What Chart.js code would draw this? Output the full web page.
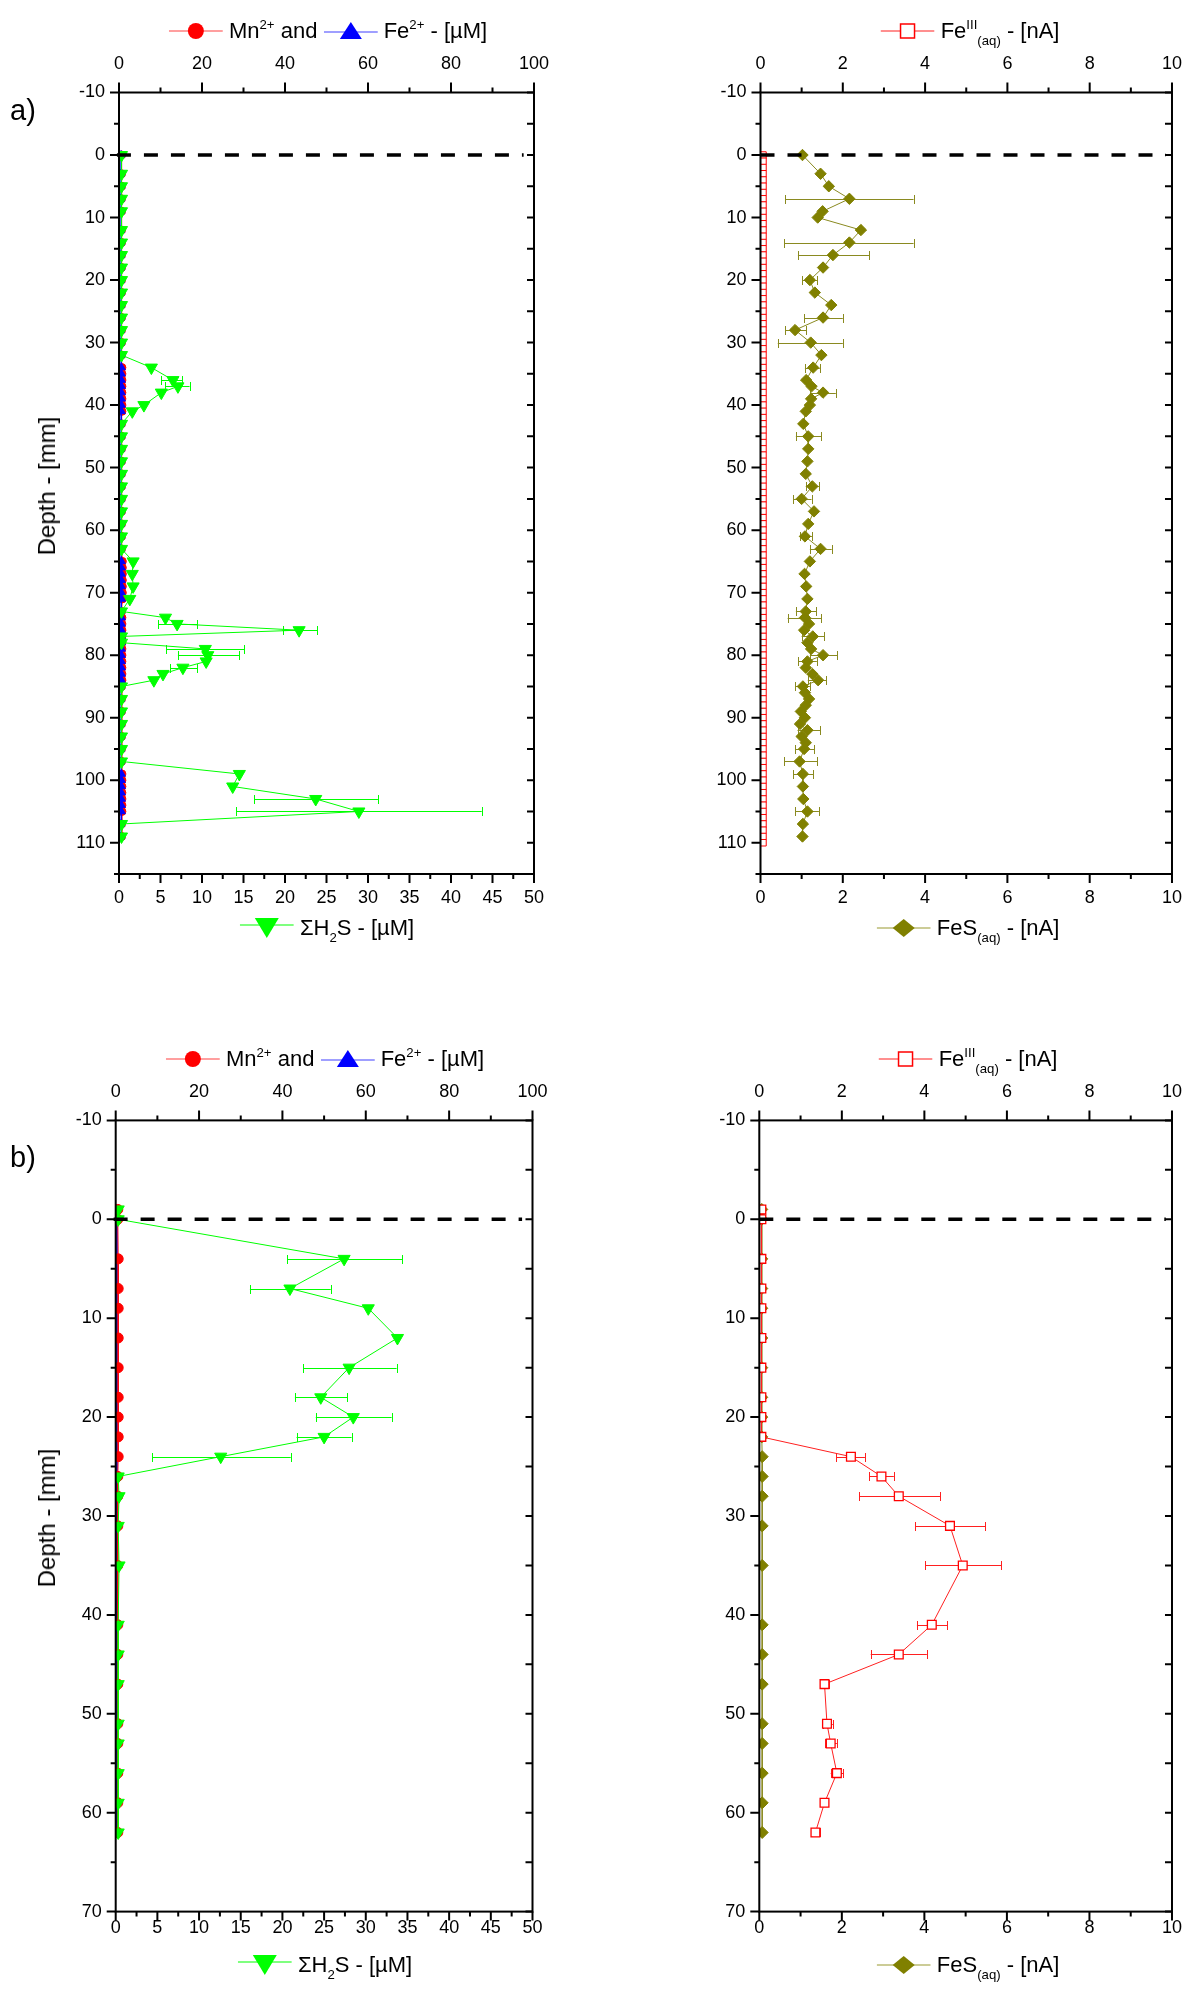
<!DOCTYPE html>
<html><head><meta charset="utf-8">
<script src="https://cdn.jsdelivr.net/npm/chart.js@4.4.0/dist/chart.umd.min.js"></script>
<style>
html,body{margin:0;padding:0;background:#fff;}
body{width:1200px;height:1989px;position:relative;overflow:hidden;font-family:"Liberation Sans",Arial,Helvetica,sans-serif;color:#000;}
canvas{position:absolute;}
.lg{position:absolute;display:flex;align-items:center;white-space:nowrap;font-size:22px;transform:translate(-50%,-50%);z-index:5;}
.lg svg{display:block;}
sup{font-size:0.6em;vertical-align:0.7em;line-height:0;}
sub{font-size:0.6em;vertical-align:-0.5em;line-height:0;}
.pl{position:absolute;font-size:29px;transform:translate(-50%,-50%);}
.yt{position:absolute;font-size:24px;white-space:nowrap;transform:translate(-50%,-50%) rotate(-90deg);}
</style></head><body>
<canvas id="cAL" width="600" height="1000" style="left:0;top:0"></canvas>
<canvas id="cAR" width="600" height="1000" style="left:600px;top:0"></canvas>
<canvas id="cBL" width="600" height="989" style="left:0;top:1000px"></canvas>
<canvas id="cBR" width="600" height="989" style="left:600px;top:1000px"></canvas>

<div class="pl" style="left:23px;top:110px">a)</div>
<div class="pl" style="left:23px;top:1157px">b)</div>
<div class="yt" style="left:47px;top:486px">Depth - [mm]</div>
<div class="yt" style="left:47px;top:1518px">Depth - [mm]</div>

<div class="lg" style="left:328px;top:31px">
<svg width="54" height="24"><line x1="0" y1="12" x2="54" y2="12" stroke="#ff4040" stroke-width="1.2"/><circle cx="27" cy="12" r="8" fill="#ff0000"/></svg>
<span>&nbsp;Mn<sup>2+</sup> and&nbsp;</span>
<svg width="54" height="24"><line x1="0" y1="13" x2="54" y2="13" stroke="#4040ff" stroke-width="1.2"/><polygon points="27,3 38,20 16,20" fill="#0000ff"/></svg>
<span>&nbsp;Fe<sup>2+</sup> - [µM]</span>
</div>
<div class="lg" style="left:970px;top:31px">
<svg width="54" height="24"><line x1="0" y1="12" x2="54" y2="12" stroke="#ff2020" stroke-width="1.2"/><rect x="20" y="5" width="14" height="14" fill="#fff" stroke="#ff0000" stroke-width="1.5"/></svg>
<span>&nbsp;Fe<sup>III</sup><sub>(aq)</sub> - [nA]</span>
</div>
<div class="lg" style="left:327px;top:928px">
<svg width="54" height="26"><line x1="0" y1="10" x2="54" y2="10" stroke="#00ff00" stroke-width="1.2"/><polygon points="15,3 39,3 27,23" fill="#00ff00"/></svg>
<span>&nbsp;ΣH<sub>2</sub>S - [µM]</span>
</div>
<div class="lg" style="left:968px;top:928px">
<svg width="54" height="24"><line x1="0" y1="12" x2="54" y2="12" stroke="#9a9a30" stroke-width="1.2"/><polygon points="27,3 38,12 27,21 16,12" fill="#808000"/></svg>
<span>&nbsp;FeS<sub>(aq)</sub> - [nA]</span>
</div>

<div class="lg" style="left:325px;top:1059px">
<svg width="54" height="24"><line x1="0" y1="12" x2="54" y2="12" stroke="#ff4040" stroke-width="1.2"/><circle cx="27" cy="12" r="8" fill="#ff0000"/></svg>
<span>&nbsp;Mn<sup>2+</sup> and&nbsp;</span>
<svg width="54" height="24"><line x1="0" y1="13" x2="54" y2="13" stroke="#4040ff" stroke-width="1.2"/><polygon points="27,3 38,20 16,20" fill="#0000ff"/></svg>
<span>&nbsp;Fe<sup>2+</sup> - [µM]</span>
</div>
<div class="lg" style="left:968px;top:1059px">
<svg width="54" height="24"><line x1="0" y1="12" x2="54" y2="12" stroke="#ff2020" stroke-width="1.2"/><rect x="20" y="5" width="14" height="14" fill="#fff" stroke="#ff0000" stroke-width="1.5"/></svg>
<span>&nbsp;Fe<sup>III</sup><sub>(aq)</sub> - [nA]</span>
</div>
<div class="lg" style="left:325px;top:1965px">
<svg width="54" height="26"><line x1="0" y1="10" x2="54" y2="10" stroke="#00ff00" stroke-width="1.2"/><polygon points="15,3 39,3 27,23" fill="#00ff00"/></svg>
<span>&nbsp;ΣH<sub>2</sub>S - [µM]</span>
</div>
<div class="lg" style="left:968px;top:1965px">
<svg width="54" height="24"><line x1="0" y1="12" x2="54" y2="12" stroke="#9a9a30" stroke-width="1.2"/><polygon points="27,3 38,12 27,21 16,12" fill="#808000"/></svg>
<span>&nbsp;FeS<sub>(aq)</sub> - [nA]</span>
</div>

<script>
// ===== DATA =====
const surfaceDepth = 0;

// Panel a) — ΣH2S [µM] (bottom axis)
const aH2S_depth = [0,3,5,7,9,12,14,16,18,20,22,24,26,28,30,32,34,36,37,38,40,41,43,45,47,49,51,53,55,57,59,61,63,65,67,69,71,73,74,75,76,77,78,79,80,81,82,83,84,85,87,89,91,93,95,97,99,101,103,105,107,109];
const aH2S = [0.3,0.3,0.3,0.3,0.3,0.3,0.3,0.3,0.3,0.3,0.3,0.3,0.3,0.3,0.3,0.3,3.9,6.5,7.1,5.1,3.0,1.6,0.3,0.3,0.3,0.3,0.3,0.3,0.3,0.3,0.3,0.3,0.3,1.7,1.6,1.7,1.3,0.3,5.6,7.0,21.7,0.3,0.3,10.4,10.7,10.5,7.7,5.3,4.2,0.3,0.3,0.3,0.3,0.3,0.3,0.3,14.5,13.7,23.7,28.9,0.3,0.3];
const aH2S_errDepth = [36,37,75,76,79,80,82,103,105];
const aH2S_errLo = [5.1,5.6,4.7,19.7,5.7,7.1,6.2,16.3,14.1];
const aH2S_errHi = [7.6,8.5,9.4,23.9,15.1,14.5,9.4,31.2,43.7];

// Panel a) — Mn2+ and Fe2+ [µM] (top axis)
const aMetal_depth = [0,3,5,7,9,12,14,16,18,20,22,24,26,28,30,32,34,35,36,37,38,39,40,41,43,45,47,49,51,53,55,57,59,61,63,65,66,67,68,69,70,71,73,74,75,76,77,78,79,80,81,82,83,84,85,87,89,91,93,95,97,99,100,101,102,103,104,105,107,109];
const aMn = [0.6,0.6,0.6,0.6,0.6,0.6,0.6,0.6,0.6,0.6,0.6,0.6,0.6,0.6,0.6,0.6,0.7,0.7,0.7,0.7,0.7,0.7,0.7,0.7,0.6,0.6,0.6,0.6,0.6,0.6,0.6,0.6,0.6,0.6,0.6,0.8,0.8,0.8,0.8,0.8,0.8,0.8,0.6,0.7,0.7,0.7,0.7,0.7,0.7,0.7,0.7,0.7,0.7,0.7,0.6,0.6,0.6,0.6,0.6,0.6,0.6,0.7,0.7,0.7,0.7,0.7,0.7,0.7,0.6,0.6];
const aFe = [0.5,0.5,0.5,0.5,0.5,0.5,0.5,0.5,0.5,0.5,0.5,0.5,0.5,0.5,0.5,0.5,0.6,0.6,0.6,0.6,0.6,0.6,0.6,0.6,0.5,0.5,0.5,0.5,0.5,0.5,0.5,0.5,0.5,0.5,0.5,0.6,0.6,0.6,0.6,0.6,0.6,0.6,0.5,0.6,0.6,0.6,0.6,0.6,0.6,0.6,0.6,0.6,0.6,0.6,0.5,0.5,0.5,0.5,0.5,0.5,0.5,0.6,0.6,0.6,0.6,0.6,0.6,0.6,0.5,0.5];

// Panel a) — FeS(aq) [nA] (bottom axis)
const aFeS_depth = [0,3,5,7,9,10,12,14,16,18,20,22,24,26,28,30,32,34,36,37,38,39,40,41,43,45,47,49,51,53,55,57,59,61,63,65,67,69,71,73,74,75,76,77,78,79,80,81,82,83,84,85,86,87,88,89,90,91,92,93,94,95,97,99,101,103,105,107,109];
const aFeS = [1.02,1.46,1.66,2.16,1.51,1.39,2.44,2.16,1.76,1.52,1.20,1.32,1.72,1.52,0.84,1.22,1.48,1.28,1.11,1.24,1.52,1.23,1.20,1.10,1.04,1.16,1.16,1.14,1.10,1.26,1.00,1.30,1.16,1.08,1.46,1.20,1.07,1.11,1.14,1.10,1.08,1.18,1.06,1.27,1.14,1.23,1.52,1.14,1.10,1.26,1.40,1.03,1.08,1.18,1.10,0.98,1.08,0.96,1.14,1.00,1.10,1.06,0.95,1.03,1.03,1.04,1.14,1.03,1.02];
const aFeS_errDepth = [7,14,16,20,26,28,30,34,38,45,53,55,61,63,73,74,77,80,81,84,85,92,95,97,99,105];
const aFeS_errLo = [0.60,0.58,0.91,1.02,1.06,0.60,0.42,1.08,1.20,0.86,1.10,0.80,0.95,1.20,0.86,0.66,1.00,1.20,0.92,1.15,0.85,0.90,0.85,0.58,0.80,0.85];
const aFeS_errHi = [3.72,3.72,2.64,1.38,2.00,1.11,2.00,1.44,1.83,1.47,1.42,1.24,1.25,1.73,1.35,1.48,1.55,1.87,1.37,1.60,1.20,1.45,1.30,1.38,1.28,1.42];

// Panel a) — FeIII(aq) [nA] (top axis)
const aFeIII_depth = [0,1,2,3,4,5,6,7,8,9,10,11,12,13,14,15,16,17,18,19,20,21,22,23,24,25,26,27,28,29,30,31,32,33,34,35,36,37,38,39,40,41,42,43,44,45,46,47,48,49,50,51,52,53,54,55,56,57,58,59,60,61,62,63,64,65,66,67,68,69,70,71,72,73,74,75,76,77,78,79,80,81,82,83,84,85,86,87,88,89,90,91,92,93,94,95,96,97,98,99,100,101,102,103,104,105,106,107,108,109,110];
const aFeIII = [0.06,0.06,0.06,0.06,0.06,0.06,0.06,0.06,0.06,0.06,0.06,0.06,0.06,0.06,0.06,0.06,0.06,0.06,0.06,0.06,0.06,0.06,0.06,0.06,0.06,0.06,0.06,0.06,0.06,0.06,0.06,0.06,0.06,0.06,0.06,0.06,0.06,0.06,0.06,0.06,0.06,0.06,0.06,0.06,0.06,0.06,0.06,0.06,0.06,0.06,0.06,0.06,0.06,0.06,0.06,0.06,0.06,0.06,0.06,0.06,0.06,0.06,0.06,0.06,0.06,0.06,0.06,0.06,0.06,0.06,0.06,0.06,0.06,0.06,0.06,0.06,0.06,0.06,0.06,0.06,0.06,0.06,0.06,0.06,0.06,0.06,0.06,0.06,0.06,0.06,0.06,0.06,0.06,0.06,0.06,0.06,0.06,0.06,0.06,0.06,0.06,0.06,0.06,0.06,0.06,0.06,0.06,0.06,0.06,0.06,0.06];

// Panel b) — shared depth grid
const bDepth = [-1,0,4,7,9,12,15,18,20,22,24,26,28,31,35,41,44,47,51,53,56,59,62];
const bH2S = [0.3,0.3,27.4,20.9,30.3,33.8,28.0,24.6,28.5,25.0,12.6,0.3,0.4,0.3,0.4,0.3,0.3,0.3,0.3,0.3,0.3,0.3,0.3];
const bH2S_errDepth = [4,7,15,18,20,22,24];
const bH2S_errLo = [20.6,16.1,22.5,21.5,24.0,21.7,4.4];
const bH2S_errHi = [34.4,25.8,33.7,27.8,33.1,28.3,21.0];
const bMn = [0.5,0.5,0.6,0.6,0.6,0.6,0.6,0.6,0.6,0.6,0.6,0.5,0.5,0.5,0.5,0.5,0.5,0.5,0.5,0.5,0.5,0.5,0.5];
const bFe = [0.3,0.3,0.3,0.3,0.3,0.3,0.3,0.3,0.3,0.3,0.3,0.3,0.3,0.3,0.3,0.3,0.3,0.3,0.3,0.3,0.3,0.3,0.3];
const bFeIII = [0.05,0.05,0.05,0.05,0.05,0.05,0.05,0.05,0.05,0.05,2.22,2.96,3.38,4.62,4.93,4.18,3.38,1.58,1.64,1.73,1.88,1.58,1.36];
const bFeIII_errDepth = [24,26,28,31,35,41,44,47,51,53,56,62];
const bFeIII_errLo = [1.86,2.66,2.42,3.78,4.02,3.82,2.70,1.48,1.55,1.60,1.73,1.27];
const bFeIII_errHi = [2.56,3.26,4.38,5.48,5.86,4.56,4.06,1.70,1.78,1.88,2.03,1.47];
const bFeS = [0.06,0.06,0.06,0.06,0.06,0.06,0.06,0.06,0.06,0.06,0.07,0.07,0.07,0.07,0.07,0.07,0.07,0.07,0.07,0.07,0.07,0.07,0.07];

// ===== CHARTS =====
Chart.defaults.font.family = "'Liberation Sans', Arial, Helvetica, sans-serif";
Chart.defaults.color = '#000';

const GREEN = '#00ff00', RED = '#ff0000', BLUE = '#0000ff', OLIVE = '#808000';

function isMult(v, m){ return Math.abs(v / m - Math.round(v / m)) < 1e-6; }
function pts(vals, depths){ return vals.map((v, i) => ({x: v, y: depths[i]})); }

const framePlugin = {
  id: 'frame',
  beforeDatasetsDraw(chart, args, opts){
    const ctx = chart.ctx;
    const y = chart.scales.y;
    (opts.errors || []).forEach(e => {
      const xs = chart.scales[e.axis];
      ctx.save();
      ctx.strokeStyle = e.color; ctx.lineWidth = 1;
      e.depth.forEach((d, i) => {
        const py = Math.round(y.getPixelForValue(d)) + 0.5;
        const x0 = xs.getPixelForValue(e.lo[i]), x1 = xs.getPixelForValue(e.hi[i]);
        ctx.beginPath();
        ctx.moveTo(x0, py); ctx.lineTo(x1, py);
        ctx.moveTo(Math.round(x0)+0.5, py - 4.5); ctx.lineTo(Math.round(x0)+0.5, py + 4.5);
        ctx.moveTo(Math.round(x1)+0.5, py - 4.5); ctx.lineTo(Math.round(x1)+0.5, py + 4.5);
        ctx.stroke();
      });
      ctx.restore();
    });
  },
  afterDatasetsDraw(chart){
    const ctx = chart.ctx;
    const {left, right, top, bottom} = chart.chartArea;
    ctx.save();
    ctx.strokeStyle = '#000'; ctx.lineWidth = 2;
    ctx.strokeRect(left, top, right - left, bottom - top);
    ctx.beginPath();
    const y = chart.scales.y;
    y.ticks.forEach(t => {
      const p = y.getPixelForValue(t.value);
      const major = t.label !== '';
      ctx.moveTo(left - (major ? 9 : 5), p); ctx.lineTo(left, p);
      ctx.moveTo(right - 7, p); ctx.lineTo(right, p);
    });
    const xt = chart.scales.xTop;
    xt.ticks.forEach(t => {
      const p = xt.getPixelForValue(t.value);
      const major = t.label !== '';
      ctx.moveTo(p, top - (major ? 10 : 5)); ctx.lineTo(p, top);
    });
    const xb = chart.scales.xBot;
    xb.ticks.forEach(t => {
      const p = xb.getPixelForValue(t.value);
      const major = t.label !== '';
      ctx.moveTo(p, bottom); ctx.lineTo(p, bottom + (major ? 9 : 5));
    });
    ctx.stroke();
    ctx.restore();
  }
};

function xAxis(pos, min, max, step, every, size, pad){
  return {
    type: 'linear', position: pos, min: min, max: max,
    ticks: {stepSize: step, autoSkip: false, maxRotation: 0, padding: pad,
      font: {size: 18}, color: '#000',
      callback: v => isMult(v, every) ? String(v) : ''},
    grid: {display: true, drawOnChartArea: false, drawTicks: false, color: 'rgba(0,0,0,0)'},
    border: {display: false},
    afterFit: s => { s.height = size; }
  };
}
function yAxis(min, max, width){
  return {
    type: 'linear', position: 'left', reverse: true, min: min, max: max,
    ticks: {stepSize: 5, autoSkip: false, padding: 14, font: {size: 18}, color: '#000',
      callback: v => isMult(v, 10) ? String(v) : ''},
    grid: {display: true, drawOnChartArea: false, drawTicks: false, color: 'rgba(0,0,0,0)'},
    border: {display: false},
    afterFit: s => { s.width = width; }
  };
}
function series(vals, depths, axis, color, style, radius, extra){
  return Object.assign({
    data: pts(vals, depths), xAxisID: axis, yAxisID: 'y', showLine: true,
    borderColor: color, borderWidth: 1, pointStyle: style, pointRadius: radius,
    pointBackgroundColor: color, pointBorderColor: color, pointBorderWidth: 1, clip: 0
  }, extra || {});
}
function zeroLine(xmin, xmax){
  return {data: [{x: xmin, y: surfaceDepth}, {x: xmax, y: surfaceDepth}], xAxisID: 'xTop', yAxisID: 'y',
    showLine: true, borderColor: '#000', borderWidth: 3.5, borderDash: [14, 13], pointRadius: 0, clip: false};
}
function make(id, c){
  return new Chart(document.getElementById(id), {
    type: 'scatter',
    data: {datasets: c.datasets},
    options: {
      responsive: false, animation: false, events: [],
      layout: {padding: {left: 0, right: c.padRight, top: 0, bottom: 0}},
      plugins: {legend: {display: false}, tooltip: {enabled: false}, frame: {errors: c.errors}},
      scales: {
        xTop: xAxis('top', c.top.min, c.top.max, c.top.step, c.top.every, c.topH, c.topPad),
        xBot: xAxis('bottom', c.bot.min, c.bot.max, c.bot.step, c.bot.every, c.botH, c.botPad),
        y: yAxis(c.yMin, c.yMax, c.leftW)
      }
    },
    plugins: [framePlugin]
  });
}

// a) left
make('cAL', {
  leftW: 119, padRight: 66, topH: 92.5, botH: 126, topPad: 18, botPad: 13,
  yMin: -10, yMax: 115,
  top: {min: 0, max: 100, step: 10, every: 20}, bot: {min: 0, max: 50, step: 2.5, every: 5},
  datasets: [
    zeroLine(-0.5, 97.5),
    series(aH2S, aH2S_depth, 'xBot', GREEN, 'triangle', 7, {pointRotation: 180}),
    series(aFe, aMetal_depth, 'xTop', BLUE, 'triangle', 4.5),
    series(aMn, aMetal_depth, 'xTop', RED, 'circle', 4)
  ],
  errors: [{axis: 'xBot', color: GREEN, depth: aH2S_errDepth, lo: aH2S_errLo, hi: aH2S_errHi}]
});
// a) right
make('cAR', {
  leftW: 160.5, padRight: 23, topH: 92.5, botH: 126, topPad: 18, botPad: 13,
  yMin: -10, yMax: 115,
  top: {min: 0, max: 10, step: 1, every: 2}, bot: {min: 0, max: 10, step: 1, every: 2},
  datasets: [
    zeroLine(0, 9.85),
    series(aFeIII, aFeIII_depth, 'xTop', RED, 'rect', 4.6, {pointBackgroundColor: '#fff', borderColor: '#ff2020'}),
    series(aFeS, aFeS_depth, 'xBot', OLIVE, 'rectRot', 5.7, {borderColor: '#8a8a20'})
  ],
  errors: [{axis: 'xBot', color: '#8a8a20', depth: aFeS_errDepth, lo: aFeS_errLo, hi: aFeS_errHi}]
});
// b) left
make('cBL', {
  leftW: 115.7, padRight: 67.5, topH: 120.4, botH: 77.4, topPad: 18, botPad: 6,
  yMin: -10, yMax: 70,
  top: {min: 0, max: 100, step: 10, every: 20}, bot: {min: 0, max: 50, step: 2.5, every: 5},
  datasets: [
    zeroLine(-0.5, 97.5),
    series(bH2S, bDepth, 'xBot', GREEN, 'triangle', 7, {pointRotation: 180}),
    series(bMn, bDepth, 'xTop', RED, 'circle', 5),
    series(bFe, bDepth, 'xTop', BLUE, 'triangle', 4.5)
  ],
  errors: [{axis: 'xBot', color: GREEN, depth: bH2S_errDepth, lo: bH2S_errLo, hi: bH2S_errHi}]
});
// b) right
make('cBR', {
  leftW: 159.3, padRight: 23, topH: 120.4, botH: 77.4, topPad: 18, botPad: 6,
  yMin: -10, yMax: 70,
  top: {min: 0, max: 10, step: 1, every: 2}, bot: {min: 0, max: 10, step: 1, every: 2},
  datasets: [
    zeroLine(0, 9.85),
    series(bFeIII, bDepth, 'xTop', RED, 'rect', 6.2, {pointBackgroundColor: '#fff', borderColor: '#ff2020', pointBorderWidth: 1.3}),
    series(bFeS, bDepth, 'xBot', OLIVE, 'rectRot', 6, {borderColor: '#8a8a20'})
  ],
  errors: [{axis: 'xTop', color: '#ff2020', depth: bFeIII_errDepth, lo: bFeIII_errLo, hi: bFeIII_errHi}]
});
</script>
</body></html>
